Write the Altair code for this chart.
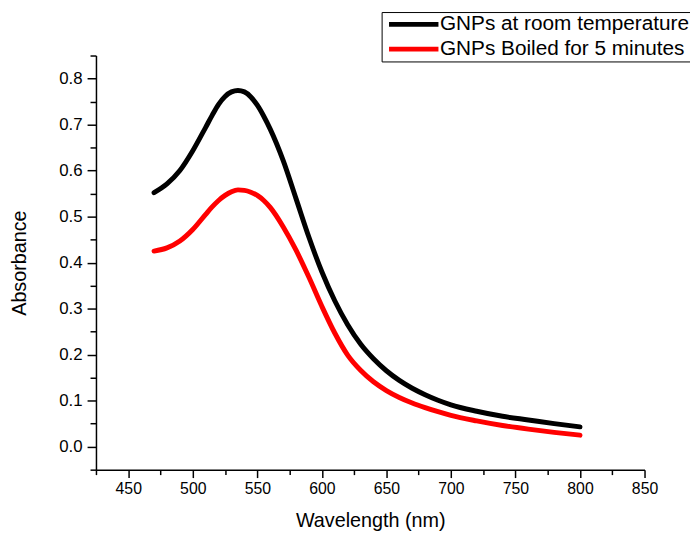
import altair as alt
import pandas as pd

# ---- data ----
wavelength = [470, 480, 490, 500, 510, 515, 520, 525, 530, 535, 540, 545, 550, 555, 560,
              570, 580, 590, 600, 610, 620, 630, 640, 650, 660, 670, 680, 690, 700,
              720, 740, 760, 780, 800]
room_temp = [0.552, 0.571, 0.600, 0.643, 0.694, 0.720, 0.744, 0.761, 0.771, 0.774, 0.771,
             0.760, 0.742, 0.718, 0.690, 0.622, 0.539, 0.455, 0.380, 0.317, 0.265, 0.223,
             0.191, 0.165, 0.144, 0.127, 0.113, 0.101, 0.091, 0.077, 0.066, 0.058, 0.050,
             0.043]
boiled = [0.425, 0.432, 0.447, 0.472, 0.505, 0.521, 0.535, 0.546, 0.554, 0.558, 0.557,
          0.553, 0.546, 0.535, 0.520, 0.478, 0.427, 0.368, 0.305, 0.247, 0.199, 0.166,
          0.141, 0.122, 0.107, 0.095, 0.085, 0.076, 0.068, 0.056, 0.046, 0.038, 0.031,
          0.025]
series_names = ["GNPs at room temperature", "GNPs Boiled for 5 minutes"]
series_colors = ["#000000", "#ff0000"]

x_major = [450, 500, 550, 600, 650, 700, 750, 800, 850]
x_minor = [425, 475, 525, 575, 625, 675, 725, 775, 825]
y_major = [0.0, 0.1, 0.2, 0.3, 0.4, 0.5, 0.6, 0.7, 0.8]
y_minor = [-0.05, 0.05, 0.15, 0.25, 0.35, 0.45, 0.55, 0.65, 0.75, 0.85]

df = pd.DataFrame({
    "wavelength": wavelength * 2,
    "absorbance": room_temp + boiled,
    "series": [series_names[0]] * len(wavelength) + [series_names[1]] * len(wavelength),
})

FONT = "Liberation Sans"
x_scale = alt.Scale(domain=[425, 850], nice=False, zero=False)
y_scale = alt.Scale(domain=[-0.05, 0.85], nice=False, zero=False)

common_axis = dict(grid=False, domainColor="black", domainWidth=1.5, tickColor="black",
                   tickWidth=1.5, labelColor="black", labelFont=FONT,
                   titleFont=FONT, titleFontSize=20, titleFontWeight="normal",
                   titleColor="black", labelFlush=False)

lines = alt.Chart(df).mark_line(strokeWidth=5, strokeCap="round", strokeJoin="round",
                                interpolate="monotone").encode(
    x=alt.X("wavelength:Q", scale=x_scale,
            axis=alt.Axis(values=x_major, format="d", title="Wavelength (nm)", orient="bottom",
                          tickSize=8, labelPadding=3, titlePadding=15, labelFontSize=16,
                          **common_axis)),
    y=alt.Y("absorbance:Q", scale=y_scale,
            axis=alt.Axis(values=y_major, format=".1f", title="Absorbance", orient="left",
                          tickSize=9, labelPadding=5, titlePadding=30, labelFontSize=17,
                          **common_axis)),
    color=alt.Color("series:N",
                    scale=alt.Scale(domain=series_names, range=series_colors),
                    legend=alt.Legend(orient="none", legendX=289, legendY=-44, title=None,
                                      symbolType="M-1,0H9", symbolSize=100,
                                      symbolStrokeWidth=5, labelFont=FONT, labelFontSize=21,
                                      labelColor="black", labelOffset=36, labelLimit=500,
                                      rowPadding=3, padding=2, strokeColor="black",
                                      fillColor="white")),
)

minor = alt.Chart(df).mark_point(opacity=0).encode(
    x=alt.X("wavelength:Q", scale=x_scale,
            axis=alt.Axis(values=x_minor, labels=False, title=None, orient="bottom",
                          domain=False, tickSize=5, grid=False, tickColor="black",
                          tickWidth=1.5)),
    y=alt.Y("absorbance:Q", scale=y_scale,
            axis=alt.Axis(values=y_minor, labels=False, title=None, orient="left",
                          domain=False, tickSize=6, grid=False, tickColor="black",
                          tickWidth=1.5)),
)

chart = alt.layer(lines, minor).resolve_axis(x="independent", y="independent").properties(
    width=555, height=419,
    autosize=alt.AutoSizeParams(type="none"),
    padding={"left": 89, "top": 45, "right": 46, "bottom": 62},
).configure_view(stroke=None)

chart.save("out.html", embed_options={"renderer": "svg", "actions": False})
